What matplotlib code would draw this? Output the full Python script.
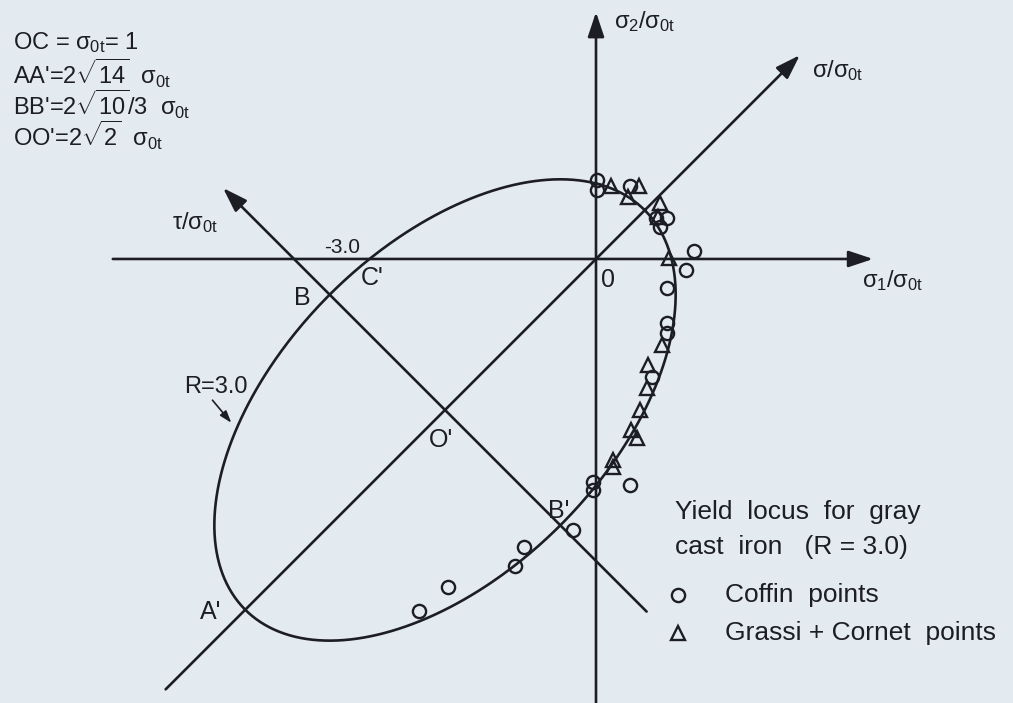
import numpy as np
import matplotlib.pyplot as plt

plt.rcParams['font.family'] = ['Liberation Sans', 'DejaVu Sans']
plt.rcParams['mathtext.fontset'] = 'custom'
plt.rcParams['mathtext.rm'] = 'Liberation Sans'
plt.rcParams['mathtext.it'] = 'Liberation Sans'
plt.rcParams['mathtext.sf'] = 'Liberation Sans'

# ratio of compressive to tensile yield stress for gray cast iron
R = 3.0

# Coffin points (sigma1/sigma0t, sigma2/sigma0t)
coffin_s1 = [0.01, 0.01, 0.45, 0.80, 0.94, 0.85, 1.30, 1.19, 0.94, 0.94, 0.94,
             0.74, 0.45, -0.04, -0.04, -0.30, -0.96, -1.07, -1.96, -2.34]
coffin_s2 = [1.05, 0.91, 0.96, 0.54, 0.54, 0.43, 0.11, -0.14, -0.39, -0.85, -0.98,
             -1.56, -2.99, -2.95, -3.06, -3.59, -3.81, -4.07, -4.35, -4.66]

# Grassi + Cornet points
grassi_s1 = [0.20, 0.57, 0.43, 0.85, 0.82, 0.97, 0.87, 0.69, 0.67, 0.58,
             0.47, 0.54, 0.23, 0.23]
grassi_s2 = [0.97, 0.96, 0.82, 0.74, 0.56, 0.01, -1.14, -1.40, -1.71, -2.00,
             -2.26, -2.37, -2.66, -2.75]

INK = '#1d1d24'
BG = '#e4ebf0'
LW = 1.9

fig = plt.figure(figsize=(10.13, 7.03), dpi=100, facecolor=BG)
ax = fig.add_axes([0, 0, 1, 1])
ax.set_facecolor(BG)
ax.set_xlim(-7.894, 5.523)
ax.set_ylim(-5.881, 3.430)
ax.set_aspect('equal')
ax.axis('off')

# yield locus: s1^2 - s1 s2 + s2^2 + (R-1)(s1+s2) = R
k = R - 1
c = -k                      # centre O' at (c, c)
K = R + k ** 2
t = np.linspace(0, 2 * np.pi, 600)
u = np.sqrt(2 * K) * np.cos(t)
v = np.sqrt(2 * K / 3) * np.sin(t)
s1 = c + (u + v) / np.sqrt(2)
s2 = c + (u - v) / np.sqrt(2)
ax.plot(s1, s2, color=INK, lw=LW, zorder=3)


def arrow(tail, tip):
    ax.annotate('', xy=tip, xytext=tail,
                arrowprops=dict(arrowstyle='-|>,head_length=0.75,head_width=0.25',
                                mutation_scale=20, lw=LW, color=INK,
                                shrinkA=0, shrinkB=0), zorder=2)


arrow((-6.40, 0), (3.67, 0))          # sigma1 axis
arrow((0, -6.0), (0, 3.27))           # sigma2 axis
arrow((-5.70, -5.70), (2.70, 2.70))   # hydrostatic axis
arrow((c + 2.67, c - 2.67), (c - 2.94, c + 2.94))  # tau axis through O'

mk = dict(mfc='none', mec=INK, mew=1.7, zorder=4, linestyle='none')
ax.plot(coffin_s1, coffin_s2, 'o', ms=9.5, **mk)
ax.plot(grassi_s1, grassi_s2, '^', ms=10.5, **mk)

fs = 17
txt = dict(color=INK, fontsize=fs, va='center')

# relations in the upper-left corner
ax.text(0.013, 0.940, r'OC = $\sigma_{0t}$= 1', transform=ax.transAxes, **txt)
ax.text(0.013, 0.896, r"AA'=2$\sqrt{14}$  $\sigma_{0t}$", transform=ax.transAxes, **txt)
ax.text(0.013, 0.852, r"BB'=2$\sqrt{10}$/3  $\sigma_{0t}$", transform=ax.transAxes, **txt)
ax.text(0.013, 0.807, r"OO'=2$\sqrt{2}$  $\sigma_{0t}$", transform=ax.transAxes, **txt)

# axis labels
ax.text(0.24, 3.14, r'$\sigma_2/\sigma_{0t}$', **txt)
ax.text(2.86, 2.50, r'$\sigma/\sigma_{0t}$', **txt)
ax.text(3.52, -0.28, r'$\sigma_1/\sigma_{0t}$', **txt)
ax.text(-5.62, 0.48, r'$\tau/\sigma_{0t}$', **txt)

# point labels
pt = dict(color=INK, fontsize=18, ha='center', va='center')
ax.text(0.16, -0.28, '0', **pt)
ax.text(-3.36, 0.15, '-3.0', color=INK, fontsize=15, ha='center', va='center')
ax.text(-2.97, -0.25, "C'", **pt)
ax.text(-3.89, -0.52, 'B', **pt)
ax.text(-2.05, -2.40, "O'", **pt)
ax.text(-0.49, -3.34, "B'", **pt)
ax.text(-5.10, -4.68, "A'", **pt)

ax.text(-5.03, -1.70, 'R=3.0', color=INK, fontsize=fs, ha='center', va='center')
ax.annotate('', xy=(-4.83, -2.17), xytext=(-5.08, -1.87),
            arrowprops=dict(arrowstyle='-|>,head_length=0.6,head_width=0.2',
                            mutation_scale=12, color=INK, lw=1.2,
                            shrinkA=0, shrinkB=0))

# legend block
lg = dict(color=INK, fontsize=19, va='center')
ax.text(1.05, -3.35, 'Yield  locus  for  gray', **lg)
ax.text(1.05, -3.81, 'cast  iron   (R = 3.0)', **lg)
ax.plot([1.09], [-4.45], 'o', ms=9.5, **mk)
ax.text(1.71, -4.45, 'Coffin  points', **lg)
ax.plot([1.09], [-4.95], '^', ms=10.5, **mk)
ax.text(1.71, -4.95, 'Grassi + Cornet  points', **lg)

fig.savefig('out.png', dpi=100, facecolor=BG)
